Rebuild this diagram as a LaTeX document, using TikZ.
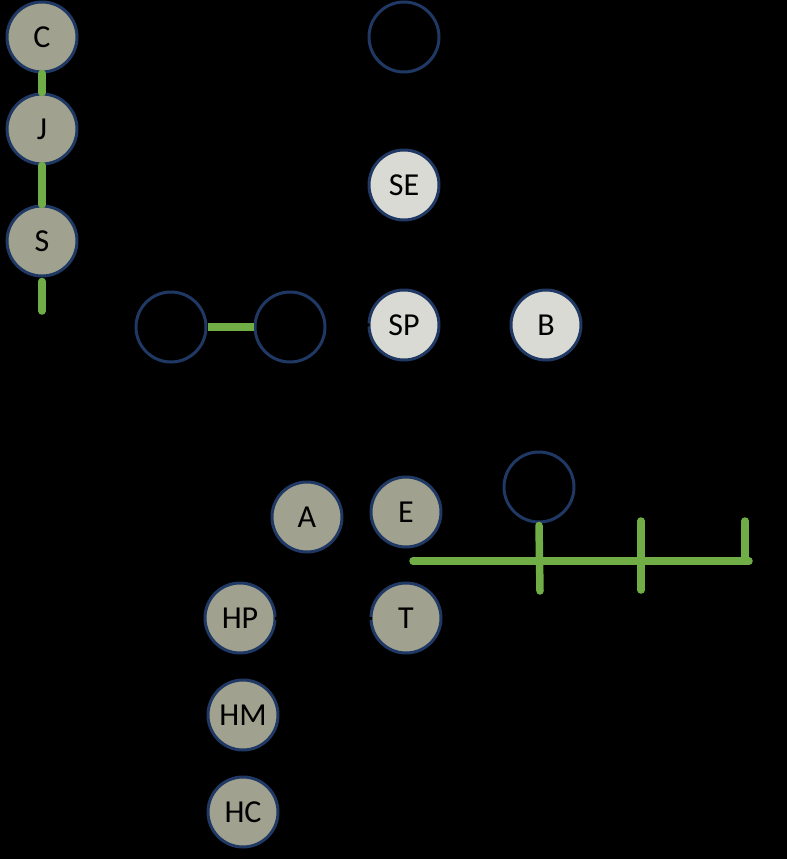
\documentclass[tikz,border=0pt]{standalone}
\usepackage{fontspec}
\setmainfont{Carlito}
\usetikzlibrary{positioning}
\definecolor{navy}{HTML}{203864}
\definecolor{mygreen}{HTML}{70AD47}
\definecolor{olivegray}{HTML}{A0A18E}
\definecolor{lightgray}{HTML}{DADAD4}
\tikzset{
  ball/.style={circle, draw=navy, line width=3pt, minimum size=70pt, inner sep=0pt,
               font=\fontsize{32}{34}\selectfont, text=black},
  darkball/.style={ball, fill=olivegray},
  paleball/.style={ball, fill=lightgray},
  emptyball/.style={ball, fill=black},
  link/.style={mygreen, line width=7.5pt, line cap=round},
  hidden/.style={black, line width=3pt},
}
\begin{document}
\begin{tikzpicture}[x=1pt, y=-1pt]
    \fill[black] (0,0) rectangle (787,859);
    \useasboundingbox (0,0) rectangle (787,859);
    % left column
    \node[darkball] (c) at (42,37) {C};
    \node[darkball] (j) at (42,129) {J};
    \node[darkball] (s) at (42,241) {S};
    \coordinate (sdown) at (42,311);
    % middle row
    \node[emptyball] (ring1) at (171,327) {};
    \node[emptyball] (ring2) at (290,327) {};
    \node[emptyball] (ringtop) at (404,37) {};
    \node[paleball] (se) at (404,185) {SE};
    \node[paleball] (sp) at (404,325) {SP};
    \node[paleball] (b) at (546,325) {B};
    % lower group
    \node[darkball] (a) at (307,517) {A};
    \node[darkball] (e) at (406,512) {E};
    \node[darkball] (t) at (406,618) {T};
    \node[darkball] (hp) at (240,618) {HP};
    \node[darkball] (hm) at (243,715) {HM};
    \node[darkball] (hc) at (243,812) {HC};
    \node[emptyball] (ringlow) at (539,487) {};
    % bus line
    \coordinate (busl) at (413,561);
    \coordinate (busr) at (749,561);
    \coordinate (tick1) at (540,591);
    \coordinate (tick2t) at (641,521);
    \coordinate (tick2b) at (641,590);
    \coordinate (tick3t) at (745,521);
    \coordinate (tick3b) at (745,561);
    \draw[link] (c.south) -- (j.north);
    \draw[link] (j.south) -- (s.north);
    \draw[link] (s.south) ++(0,4) -- (sdown);
    \draw[link, line cap=butt] (ring1.east) -- (ring2.west);
    \draw[link] (busl) -- (busr);
    \draw[link] (ringlow.south) ++(0,2) -- (tick1);
    \draw[link] (tick2t) -- (tick2b);
    \draw[link] (tick3t) -- (tick3b);
    \draw[hidden, shorten <=4pt, shorten >=-2pt] (ring2.east) -- (sp.west);
    \draw[hidden, shorten <=-2pt, shorten >=-2pt] (hp.east) -- (t.west);
\end{tikzpicture}
\end{document}
